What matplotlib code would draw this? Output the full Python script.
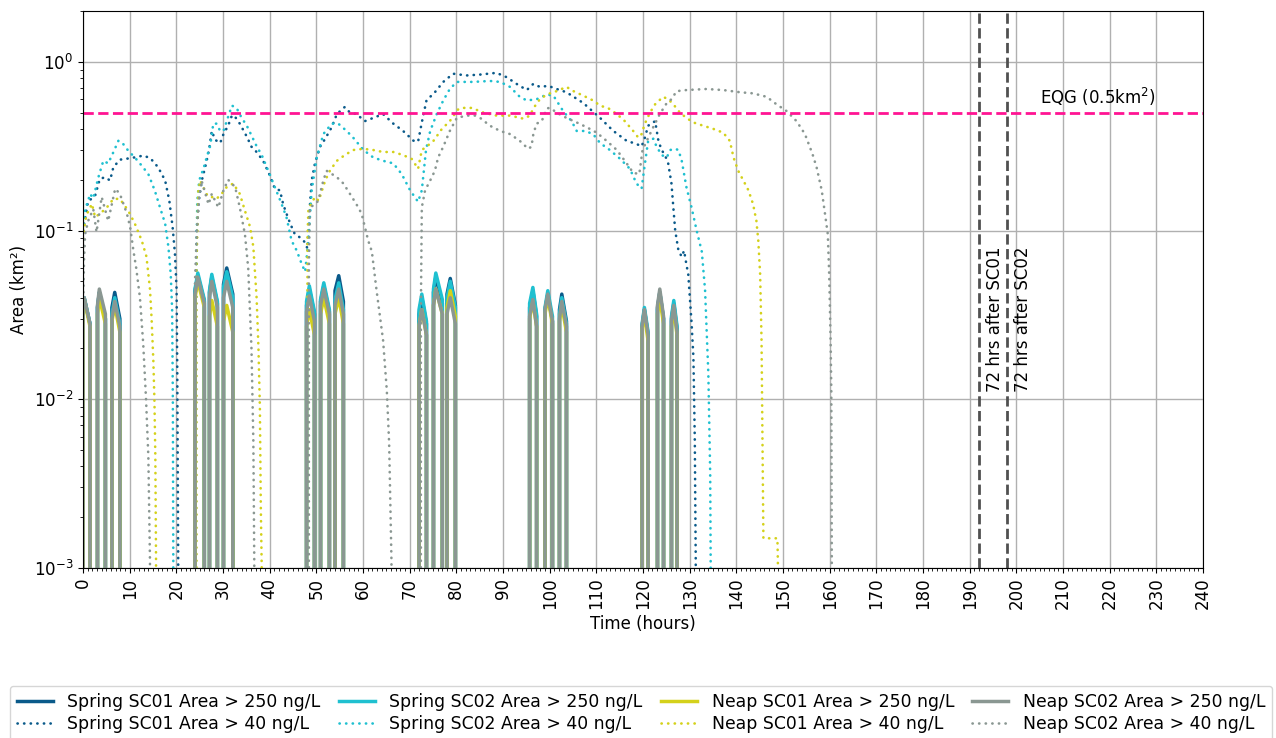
import numpy as np
import matplotlib
matplotlib.use("Agg")
import matplotlib.pyplot as plt
from matplotlib.ticker import MultipleLocator

plt.rcParams['font.size'] = 12

# colours per run
c_spring01 = '#0a5a8a'
c_spring02 = '#1fc0d0'
c_neap01 = '#d4d11b'
c_neap02 = '#8a9792'

# ---- spike windows for the > 250 ng/L areas: (start, peak, end) in hours
spike_windows = [
    (0.0, 0.25, 1.5), (3.1, 3.5, 4.8), (6.2, 6.8, 7.9),
    (24.0, 24.6, 26.0), (27.1, 27.6, 28.8), (30.1, 30.8, 32.1),
    (47.9, 48.5, 49.6), (50.9, 51.6, 52.8), (54.0, 54.8, 55.8),
    (72.0, 72.6, 73.6), (75.1, 75.6, 77.0), (78.0, 78.7, 79.8),
    (95.7, 96.4, 97.2), (99.0, 99.6, 100.6), (102.1, 102.6, 103.6),
    (119.8, 120.3, 121.1), (123.1, 123.6, 124.4), (126.1, 126.6, 127.3),
]

# area (km2) at start / peak / end of each spike
spring01_250 = [
    (.039, .040, .028), (.035, .043, .030), (.035, .043, .030),
    (.044, .054, .038), (.043, .053, .037), (.048, .060, .042),
    (.036, .045, .032), (.038, .047, .033), (.044, .054, .038),
    (.032, .040, .028), (.043, .053, .037), (.042, .052, .036),
    (.035, .044, .031), (.034, .042, .029), (.034, .042, .029),
    (.027, .034, .024), (.035, .043, .030), (.030, .037, .026),
]
spring02_250 = [
    (.039, .040, .028), (.035, .043, .030), (.032, .040, .028),
    (.045, .056, .039), (.044, .055, .038), (.046, .057, .040),
    (.038, .047, .033), (.039, .049, .034), (.039, .049, .034),
    (.034, .042, .029), (.045, .056, .039), (.040, .050, .035),
    (.037, .046, .032), (.035, .044, .031), (.032, .040, .028),
    (.028, .035, .025), (.034, .043, .030), (.031, .0385, .027),
]
neap01_250 = [
    (.038, .039, .027), (.032, .040, .028), (.029, .036, .025),
    (.040, .050, .035), (.031, .0385, .027), (.029, .036, .025),
    (.027, .034, .024), (.032, .040, .028), (.032, .040, .028),
    (.027, .034, .024), (.036, .045, .032), (.035, .044, .031),
    (.030, .038, .027), (.032, .040, .028), (.029, .036, .025),
    (.026, .032, .022), (.032, .040, .028), (.027, .034, .024),
]
neap02_250 = [
    (.039, .040, .028), (.036, .045, .032), (.030, .038, .027),
    (.042, .053, .037), (.040, .050, .035), (.040, .050, .035),
    (.033, .041, .029), (.036, .045, .032), (.036, .045, .032),
    (.027, .034, .024), (.036, .045, .032), (.032, .040, .028),
    (.031, .039, .027), (.034, .042, .029), (.030, .038, .027),
    (.027, .034, .024), (.036, .045, .031), (.029, .036, .025),
]

# ---- > 40 ng/L areas: (hour, km2)
spring01_40 = [
    (0.0, 0.10), (0.5, 0.12), (1.1, 0.15), (2.0, 0.155), (2.6, 0.161), (3.6, 0.202),
    (4.7, 0.207), (5.8, 0.198), (6.5, 0.237), (7.9, 0.263), (10.4, 0.269), (12.9, 0.278),
    (14.4, 0.269), (16.1, 0.237), (17.6, 0.198), (18.5, 0.150), (19.2, 0.105), (19.7, 0.073),
    (20.05, 0.045), (20.2, 0.015), (20.3, 0.004), (20.4, 0.0011), (20.5, 0), (23.9, 0),
    (24.2, 0.03), (24.4, 0.10), (24.8, 0.15), (25.5, 0.20), (26.3, 0.245), (27.0, 0.30),
    (27.6, 0.389), (28.3, 0.345), (29.4, 0.33), (30.1, 0.373), (31.1, 0.418), (31.9, 0.48),
    (32.4, 0.48), (33.6, 0.43), (35.1, 0.36), (36.1, 0.314), (37.2, 0.292), (38.6, 0.259),
    (40.1, 0.21), (41.1, 0.177), (42.2, 0.173), (42.9, 0.143), (43.6, 0.126), (44.4, 0.11),
    (45.4, 0.095), (46.5, 0.091), (47.6, 0.085), (48.1, 0.078), (48.5, 0.126), (49.0, 0.198),
    (49.7, 0.25), (50.8, 0.314), (51.9, 0.35), (53.3, 0.41), (54.4, 0.49), (56.1, 0.54),
    (57.2, 0.50), (58.6, 0.49), (60.4, 0.445), (62.2, 0.465), (64.3, 0.49), (66.5, 0.43),
    (68.6, 0.389), (70.8, 0.341), (71.8, 0.336), (72.6, 0.437), (73.6, 0.59), (75.4, 0.66),
    (77.2, 0.76), (79.3, 0.85), (82.2, 0.83), (85.1, 0.84), (88.6, 0.86), (90.8, 0.81),
    (92.9, 0.74), (95.1, 0.68), (96.5, 0.74), (97.9, 0.71), (99.7, 0.72), (101.5, 0.69),
    (103.6, 0.66), (107.2, 0.57), (110.8, 0.465), (113.6, 0.39), (116.5, 0.34), (118.6, 0.326),
    (119.7, 0.315), (120.4, 0.355), (121.1, 0.418), (122.6, 0.445), (123.3, 0.34), (124.0, 0.30),
    (124.7, 0.28), (125.4, 0.25), (126.1, 0.19), (126.5, 0.137), (126.9, 0.10), (127.6, 0.076),
    (128.3, 0.07), (128.8, 0.076), (129.3, 0.063), (129.7, 0.055), (130.4, 0.0285), (130.8, 0.0178),
    (131.1, 0.0057), (131.3, 0.0011), (131.4, 0),
]
spring02_40 = [
    (0.0, 0.10), (0.5, 0.135), (1.1, 0.15), (1.5, 0.165), (2.2, 0.155), (3.3, 0.207),
    (4.35, 0.259), (5.4, 0.25), (6.5, 0.291), (7.6, 0.341), (8.6, 0.326), (9.7, 0.297),
    (11.1, 0.271), (12.6, 0.242), (14.0, 0.216), (15.4, 0.172), (16.5, 0.137), (17.6, 0.110),
    (18.3, 0.080), (18.8, 0.055), (19.1, 0.034), (19.25, 0.01), (19.35, 0.0011), (19.45, 0),
    (23.9, 0), (24.2, 0.05), (24.5, 0.15), (24.9, 0.198), (25.9, 0.237), (26.5, 0.271),
    (27.2, 0.314), (27.6, 0.366), (27.9, 0.43), (28.6, 0.43), (29.4, 0.389), (30.1, 0.389),
    (30.8, 0.445), (31.9, 0.55), (32.9, 0.533), (34.0, 0.465), (35.1, 0.418), (36.1, 0.366),
    (37.2, 0.316), (38.3, 0.28), (39.7, 0.226), (41.1, 0.181), (42.3, 0.15), (43.6, 0.12),
    (44.7, 0.087), (45.8, 0.076), (46.9, 0.063), (47.6, 0.057), (48.3, 0.087), (49.0, 0.173),
    (50.1, 0.271), (51.5, 0.373), (53.3, 0.43), (54.7, 0.43), (56.5, 0.389), (57.9, 0.355),
    (60.1, 0.30), (62.2, 0.271), (64.3, 0.259), (66.5, 0.25), (68.3, 0.216), (70.1, 0.173),
    (71.8, 0.148), (72.6, 0.173), (73.5, 0.30), (74.4, 0.389), (75.8, 0.49), (77.2, 0.59),
    (78.6, 0.69), (80.1, 0.76), (83.6, 0.76), (87.2, 0.77), (89.4, 0.76), (91.5, 0.71),
    (93.6, 0.62), (95.1, 0.59), (97.2, 0.60), (99.4, 0.64), (100.8, 0.63), (102.9, 0.51),
    (104.7, 0.445), (105.8, 0.389), (107.6, 0.389), (109.3, 0.373), (110.8, 0.33), (112.9, 0.30),
    (115.1, 0.266), (117.2, 0.232), (118.6, 0.19), (119.7, 0.177), (120.3, 0.237), (121.1, 0.34),
    (122.2, 0.35), (122.9, 0.315), (124.0, 0.28), (125.1, 0.271), (125.8, 0.30), (126.9, 0.305),
    (127.6, 0.30), (128.3, 0.259), (129.3, 0.181), (130.4, 0.137), (131.5, 0.10), (132.6, 0.075),
    (133.3, 0.0443), (134.0, 0.0142), (134.4, 0.0036), (134.5, 0.0011), (134.6, 0),
]
neap01_40 = [
    (0.0, 0.09), (0.5, 0.115), (0.9, 0.126), (1.9, 0.144), (2.6, 0.12), (3.3, 0.124),
    (4.35, 0.131), (5.4, 0.14), (6.5, 0.154), (7.9, 0.154), (9.7, 0.131), (11.1, 0.110),
    (12.6, 0.087), (13.6, 0.07), (14.35, 0.045), (14.7, 0.03), (15.07, 0.017), (15.3, 0.010),
    (15.5, 0.0046), (15.65, 0.0011), (15.75, 0), (24.0, 0), (24.3, 0.06), (24.7, 0.17),
    (25.1, 0.198), (26.1, 0.173), (26.7, 0.16), (27.6, 0.158), (28.6, 0.154), (29.7, 0.165),
    (30.8, 0.181), (32.2, 0.19), (33.6, 0.165), (34.7, 0.131), (35.8, 0.105), (36.5, 0.08),
    (37.2, 0.04), (37.6, 0.02), (37.9, 0.009), (38.1, 0.0023), (38.3, 0.001), (38.4, 0),
    (47.9, 0), (48.1, 0.09), (48.3, 0.134), (49.7, 0.158), (50.5, 0.15), (51.9, 0.198),
    (52.9, 0.226), (54.4, 0.259), (56.1, 0.28), (57.9, 0.30), (60.1, 0.305), (62.2, 0.30),
    (64.3, 0.292), (66.5, 0.292), (68.6, 0.28), (70.5, 0.265), (71.8, 0.232), (72.6, 0.30),
    (73.6, 0.314), (75.1, 0.34), (76.9, 0.40), (78.6, 0.445), (80.3, 0.52), (81.1, 0.533),
    (83.3, 0.533), (85.8, 0.50), (88.6, 0.48), (91.5, 0.48), (94.4, 0.46), (95.8, 0.48),
    (96.5, 0.53), (97.9, 0.60), (99.4, 0.64), (101.5, 0.67), (103.6, 0.71), (105.1, 0.67),
    (107.2, 0.63), (109.3, 0.59), (110.8, 0.55), (112.6, 0.53), (114.4, 0.49), (116.1, 0.445),
    (117.9, 0.389), (119.0, 0.355), (119.7, 0.373), (120.4, 0.43), (121.5, 0.50), (122.6, 0.56),
    (124.3, 0.62), (125.4, 0.60), (126.5, 0.56), (127.9, 0.50), (129.3, 0.465), (130.8, 0.437),
    (132.9, 0.418), (135.1, 0.40), (137.2, 0.38), (138.6, 0.34), (139.4, 0.271), (140.4, 0.226),
    (141.5, 0.198), (142.6, 0.173), (143.6, 0.143), (144.3, 0.114), (144.7, 0.0875), (145.1, 0.055),
    (145.4, 0.0224), (145.6, 0.0057), (145.8, 0.0015), (148.8, 0.0015), (148.9, 0.0011), (149.0, 0),
]
neap02_40 = [
    (0.0, 0.03), (0.2, 0.065), (0.45, 0.095), (1.1, 0.114), (2.2, 0.134), (2.9, 0.098),
    (4.0, 0.158), (5.4, 0.114), (6.9, 0.177), (7.9, 0.165), (9.4, 0.126), (10.1, 0.105),
    (10.8, 0.076), (11.4, 0.060), (12.2, 0.040), (12.9, 0.0214), (13.5, 0.0101), (14.0, 0.0046),
    (14.35, 0.0011), (14.45, 0), (23.8, 0), (24.0, 0.05), (24.4, 0.10), (24.9, 0.158),
    (25.4, 0.198), (26.9, 0.143), (27.6, 0.165), (29.0, 0.137), (30.1, 0.173), (31.1, 0.20),
    (32.6, 0.181), (33.6, 0.137), (34.7, 0.095), (35.4, 0.06), (36.1, 0.02), (36.5, 0.0057),
    (36.7, 0.0011), (36.8, 0), (48.3, 0), (48.4, 0.06), (48.6, 0.137), (49.7, 0.143),
    (50.4, 0.15), (51.5, 0.198), (52.2, 0.226), (52.9, 0.22), (54.4, 0.207), (55.8, 0.19),
    (57.2, 0.165), (58.6, 0.143), (59.7, 0.126), (60.4, 0.105), (61.1, 0.0875), (61.9, 0.075),
    (62.9, 0.0443), (64.3, 0.0224), (65.1, 0.0113), (65.6, 0.0055), (66.1, 0.0011), (66.2, 0),
    (72.2, 0), (72.4, 0.033), (72.6, 0.137), (73.3, 0.173), (74.4, 0.198), (75.4, 0.226),
    (76.1, 0.271), (77.2, 0.314), (78.6, 0.389), (80.1, 0.465), (82.2, 0.48), (84.0, 0.48),
    (85.1, 0.465), (87.2, 0.418), (89.4, 0.389), (91.5, 0.373), (93.6, 0.34), (95.4, 0.305),
    (96.1, 0.314), (96.5, 0.373), (97.2, 0.43), (98.3, 0.445), (99.4, 0.53), (100.1, 0.533),
    (101.5, 0.50), (103.6, 0.465), (105.8, 0.437), (107.9, 0.41), (110.1, 0.38), (112.2, 0.34),
    (114.4, 0.30), (116.5, 0.25), (117.9, 0.22), (119.2, 0.216), (119.9, 0.30), (120.8, 0.34),
    (122.2, 0.41), (123.6, 0.49), (125.1, 0.57), (126.1, 0.60), (127.2, 0.67), (129.3, 0.68),
    (133.6, 0.69), (137.2, 0.68), (140.8, 0.66), (143.6, 0.65), (146.5, 0.62), (148.6, 0.56),
    (150.8, 0.51), (152.9, 0.445), (154.7, 0.373), (156.3, 0.285), (157.2, 0.237), (158.3, 0.173),
    (159.1, 0.12), (159.6, 0.095), (159.9, 0.055), (160.2, 0.0224), (160.35, 0.0113), (160.45, 0.0011),
    (160.55, 0),
]

eqg_area = 0.5
cutoff_sc01 = 192
cutoff_sc02 = 198


def spike_series(values):
    # each spike drops to zero just before and after its window
    t, a = [], []
    for (ts, tp, te), (v0, vp, v1) in zip(spike_windows, values):
        t += [ts - 0.05, ts, tp, te, te + 0.05]
        a += [0, v0, vp, v1, 0]
    return t, a


fig = plt.figure(figsize=(12.76, 7.38), dpi=100)
ax = fig.add_axes([0.06505, 0.23035, 0.87774, 0.75474])

runs = [
    ('Spring SC01', c_spring01, spring01_250, spring01_40),
    ('Spring SC02', c_spring02, spring02_250, spring02_40),
    ('Neap SC01', c_neap01, neap01_250, neap01_40),
    ('Neap SC02', c_neap02, neap02_250, neap02_40),
]
for name, col, hi, lo in runs:
    t, a = spike_series(hi)
    ax.plot(t, a, color=col, lw=2.5, label=name + ' Area > 250 ng/L')
    tl, al = zip(*lo)
    ax.plot(tl, al, color=col, lw=1.9, ls=(0, (0.1, 2.4)), dash_capstyle='round',
            label=name + ' Area > 40 ng/L')

ax.axhline(eqg_area, color='#ff1493', ls='--', lw=2)
ax.text(205, 0.53, 'EQG (0.5km$^2$)', va='bottom', ha='left')
ax.axvline(cutoff_sc01, color='#505050', ls='--', lw=2)
ax.axvline(cutoff_sc02, color='#505050', ls='--', lw=2)
ax.text(cutoff_sc01 + 1.5, 0.011, '72 hrs after SC01', rotation=90, va='bottom', ha='left')
ax.text(cutoff_sc02 + 1.5, 0.011, '72 hrs after SC02', rotation=90, va='bottom', ha='left')

ax.set_yscale('log')
ax.set_ylim(1e-3, 2)
ax.set_xlim(0, 240)
ax.set_xticks(np.arange(0, 241, 10))
ax.xaxis.set_minor_locator(MultipleLocator(1))
ax.tick_params(axis='x', labelrotation=90)
ax.grid(True, color='#b0b0b0', lw=1)
ax.set_xlabel('Time (hours)')
ax.set_ylabel('Area (km²)')

ax.legend(loc='upper center', bbox_to_anchor=(641 / 1276, 1 - 686 / 738),
          bbox_transform=fig.transFigure, borderaxespad=0, ncol=4, fontsize=12.4,
          handlelength=2.1, handletextpad=0.85, columnspacing=1.05, labelspacing=0.25)

fig.savefig('out.png', dpi=100)
